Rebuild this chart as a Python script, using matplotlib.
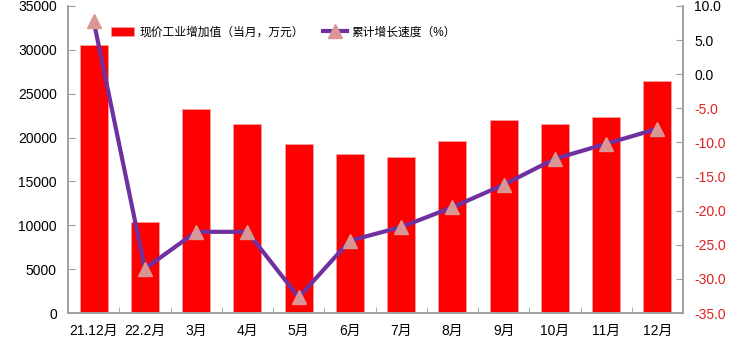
import matplotlib.pyplot as plt
from matplotlib.ticker import FixedLocator, FormatStrFormatter

plt.rcParams['font.family'] = ['Liberation Sans', 'Noto Sans CJK SC', 'DejaVu Sans']

months = ["21.12月", "22.2月", "3月", "4月", "5月", "6月",
          "7月", "8月", "9月", "10月", "11月", "12月"]
added_value = [30500, 10400, 23200, 21600, 19300, 18100,
               17800, 19600, 22000, 21600, 22300, 26500]
growth_rate = [7.8, -28.5, -23.1, -23.1, -32.7, -24.4,
               -22.4, -19.5, -16.2, -12.4, -10.2, -8.0]

bar_label = "现价工业增加值（当月，万元）"
line_label = "累计增长速度（%）"

fig = plt.figure(figsize=(7.5, 3.5), dpi=100)
ax = fig.add_axes([0.0907, 0.1057, 0.82, 0.8773])
ax2 = ax.twinx()

x = list(range(len(months)))
bars = ax.bar(x, added_value, width=0.55, color="#FF0000",
              edgecolor="#F4A0A0", linewidth=0.6, label=bar_label, zorder=2)
line, = ax2.plot(x, growth_rate, color="#7030A0", linewidth=3,
                 marker="^", markersize=10, markerfacecolor="#D99694",
                 markeredgecolor="#D99694", label=line_label, zorder=3)

ax.set_xlim(-0.5, len(months) - 0.5)
ax.set_ylim(0, 35000)
ax.set_yticks(range(0, 35001, 5000))
ax2.set_ylim(-35, 10)
ax2.set_yticks(range(-35, 11, 5))
ax2.yaxis.set_major_formatter(FormatStrFormatter("%.1f"))

ax.set_xticks(x)
ax.set_xticklabels(months, fontsize=10)
ax.xaxis.set_minor_locator(FixedLocator([i + 0.5 for i in x[:-1]]))
ax.tick_params(axis="x", which="major", length=0, pad=8)
ax.tick_params(axis="x", which="minor", direction="in", length=4,
               color="#A0A0A0")
ax.tick_params(axis="y", direction="in", length=5, color="#A0A0A0",
               labelsize=10, pad=8)
ax2.tick_params(axis="y", direction="in", length=5, color="#A0A0A0",
                labelsize=10, pad=8)

for t, v in zip(ax2.get_yticklabels(), range(-35, 11, 5)):
    t.set_color("#E02020" if v < 0 else "black")

for a in (ax, ax2):
    a.spines["top"].set_visible(False)
    for s in ("left", "right", "bottom"):
        a.spines[s].set_color("#A0A0A0")
        a.spines[s].set_linewidth(1.2)

ax.legend(handles=[bars, line], loc="center left",
          bbox_to_anchor=(0.052, 0.913), ncol=2, frameon=False,
          fontsize=8.5, handlelength=2.0, handleheight=0.9,
          handletextpad=0.45, columnspacing=1.6)

fig.savefig("out.png", dpi=100)
